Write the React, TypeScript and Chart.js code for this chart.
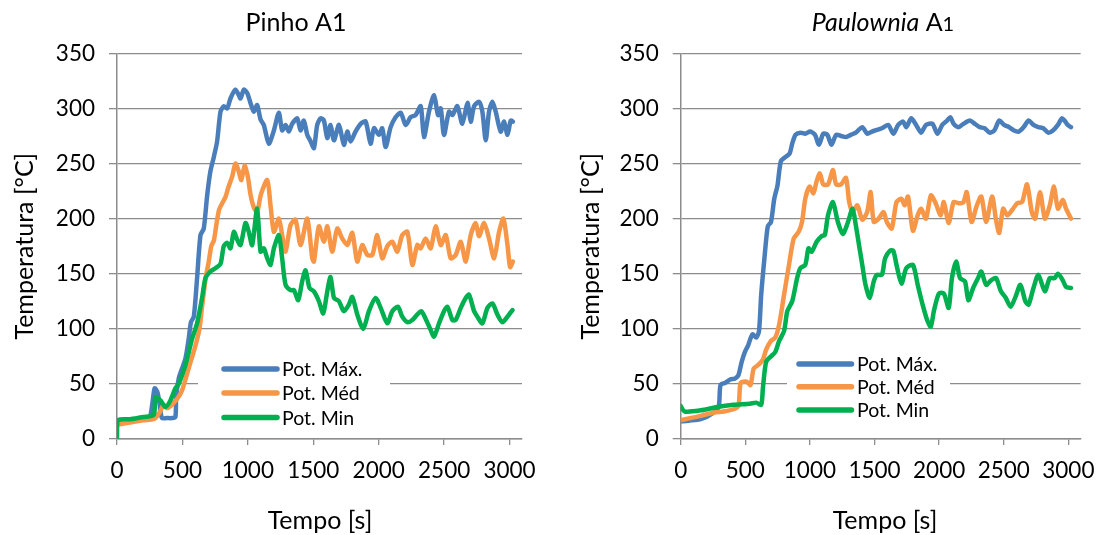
import React, { useEffect, useRef } from "react";
import { Chart, registerables } from "chart.js";

Chart.register(...registerables);

// ---------- axis / legend data ----------
const X_TICKS = [0, 500, 1000, 1500, 2000, 2500, 3000];
const Y_TICKS = [0, 50, 100, 150, 200, 250, 300, 350];
const X_MAX = 3095;
const Y_MAX = 350;
const SERIES_LABELS = ["Pot. Máx.", "Pot. Méd", "Pot. Min"];
const SERIES_COLORS = ["#4A7EBB", "#F79646", "#00B050"];
const X_TITLE = "Tempo [s]";
const Y_TITLE = "Temperatura [°C]";

// ---------- Pinho A1 ----------
const PINHO_MAX_T = [0, 100, 200, 250, 270, 288, 310, 330, 344, 380, 420, 446, 452, 472, 500, 523, 548, 565, 587, 612, 638, 663, 689, 714, 740, 765, 791, 816, 842, 867, 905, 931, 944, 969, 995, 1020, 1046, 1071, 1097, 1122, 1160, 1199, 1237, 1262, 1288, 1313, 1339, 1377, 1403, 1428, 1454, 1480, 1505, 1530, 1556, 1581, 1607, 1632, 1658, 1696, 1734, 1760, 1785, 1823, 1862, 1900, 1938, 1964, 2002, 2027, 2053, 2091, 2129, 2168, 2206, 2244, 2282, 2321, 2346, 2384, 2423, 2453, 2474, 2499, 2537, 2563, 2601, 2639, 2678, 2703, 2729, 2767, 2792, 2818, 2843, 2869, 2894, 2932, 2958, 2984, 3009, 3025];
const PINHO_MAX_V = [16, 17, 19, 20, 32, 46, 42, 28, 19, 19, 19, 20, 37, 55, 65, 73, 91, 106, 111, 146, 185, 191, 221, 243, 256, 270, 297, 302, 300, 309, 317, 312, 309, 317, 314, 305, 297, 303, 290, 285, 268, 280, 296, 280, 285, 279, 286, 291, 280, 289, 276, 270, 264, 285, 291, 289, 273, 285, 271, 285, 267, 279, 270, 279, 286, 288, 268, 282, 276, 282, 265, 283, 292, 296, 285, 292, 294, 302, 274, 297, 312, 294, 300, 276, 297, 294, 302, 286, 305, 288, 302, 306, 297, 271, 297, 306, 297, 279, 288, 276, 289, 288];

const PINHO_MED_T = [0, 100, 200, 280, 300, 330, 357, 380, 410, 450, 480, 500, 550, 600, 630, 650, 680, 700, 720, 740, 760, 780, 800, 830, 850, 880, 905, 930, 950, 975, 1000, 1020, 1046, 1071, 1100, 1148, 1175, 1199, 1237, 1262, 1288, 1326, 1364, 1403, 1454, 1492, 1505, 1543, 1581, 1607, 1645, 1683, 1721, 1760, 1798, 1836, 1874, 1913, 1951, 1989, 2027, 2066, 2104, 2142, 2180, 2219, 2257, 2295, 2321, 2359, 2397, 2435, 2474, 2512, 2550, 2588, 2627, 2665, 2703, 2741, 2767, 2805, 2843, 2882, 2920, 2953, 2984, 3004, 3025];
const PINHO_MED_V = [13, 15, 17, 18, 20, 25, 31, 28, 30, 35, 40, 45, 65, 85, 100, 120, 148, 160, 175, 180, 195, 208, 213, 220, 228, 238, 250, 243, 235, 248, 238, 222, 210, 206, 222, 235, 210, 188, 200, 185, 170, 194, 199, 176, 200, 164, 161, 193, 179, 193, 170, 191, 182, 176, 187, 161, 176, 167, 167, 185, 164, 175, 179, 170, 185, 188, 158, 176, 173, 182, 173, 193, 176, 185, 164, 167, 179, 161, 185, 196, 184, 196, 182, 164, 188, 200, 176, 156, 161];

const PINHO_MIN_T = [0, 3, 100, 200, 281, 293, 332, 370, 408, 446, 472, 523, 574, 612, 650, 676, 714, 752, 791, 816, 842, 867, 893, 918, 944, 982, 1007, 1033, 1071, 1097, 1122, 1148, 1173, 1199, 1237, 1262, 1288, 1326, 1352, 1385, 1415, 1441, 1471, 1505, 1543, 1576, 1607, 1632, 1658, 1696, 1734, 1772, 1798, 1836, 1882, 1925, 1976, 2015, 2066, 2104, 2147, 2180, 2219, 2257, 2295, 2326, 2359, 2397, 2423, 2461, 2499, 2525, 2563, 2588, 2627, 2665, 2690, 2729, 2754, 2792, 2831, 2869, 2907, 2945, 2984, 3022];
const PINHO_MIN_V = [0, 17, 18, 20, 22, 38, 35, 29, 35, 46, 50, 67, 91, 105, 128, 146, 152, 155, 159, 175, 178, 173, 188, 181, 176, 196, 188, 176, 209, 170, 173, 164, 158, 173, 185, 164, 140, 135, 135, 126, 143, 153, 137, 134, 125, 114, 134, 147, 128, 125, 116, 122, 129, 113, 100, 116, 128, 119, 105, 116, 120, 111, 106, 108, 113, 116, 109, 99, 93, 105, 116, 120, 108, 108, 119, 128, 131, 116, 111, 105, 119, 123, 113, 106, 111, 117];

// ---------- Paulownia A1 ----------
const PAUL_MAX_T = [0, 156, 257, 295, 308, 346, 383, 421, 447, 472, 497, 522, 555, 585, 606, 623, 648, 674, 699, 724, 749, 775, 812, 843, 863, 888, 926, 964, 1002, 1039, 1070, 1103, 1135, 1166, 1203, 1241, 1279, 1317, 1355, 1405, 1443, 1480, 1506, 1557, 1607, 1645, 1683, 1721, 1746, 1784, 1822, 1860, 1898, 1948, 1986, 2024, 2062, 2087, 2112, 2150, 2188, 2238, 2276, 2314, 2352, 2390, 2427, 2465, 2503, 2541, 2579, 2617, 2654, 2692, 2730, 2768, 2806, 2844, 2881, 2919, 2950, 2970, 2995, 3020];
const PAUL_MAX_V = [16, 18, 24, 30, 49, 51, 54, 55, 58, 70, 79, 85, 95, 92, 98, 131, 164, 193, 197, 218, 230, 252, 256, 259, 268, 276, 278, 277, 279, 276, 267, 277, 276, 267, 276, 275, 274, 276, 278, 283, 277, 279, 280, 282, 285, 277, 285, 288, 283, 291, 285, 278, 285, 286, 277, 285, 289, 292, 286, 283, 286, 289, 286, 283, 282, 278, 280, 289, 285, 283, 280, 279, 283, 289, 285, 283, 282, 278, 280, 285, 291, 289, 285, 283];

const PAUL_MED_T = [0, 156, 257, 333, 409, 447, 464, 510, 540, 565, 598, 636, 661, 699, 732, 762, 800, 838, 875, 913, 939, 964, 997, 1027, 1052, 1077, 1103, 1140, 1178, 1203, 1241, 1279, 1304, 1330, 1367, 1405, 1443, 1470, 1494, 1532, 1570, 1595, 1633, 1670, 1708, 1733, 1759, 1797, 1834, 1860, 1898, 1936, 1973, 2011, 2036, 2074, 2112, 2150, 2188, 2213, 2251, 2289, 2326, 2364, 2410, 2440, 2465, 2495, 2528, 2566, 2604, 2642, 2680, 2717, 2743, 2781, 2818, 2856, 2889, 2919, 2957, 2982, 3020];
const PAUL_MED_V = [17, 21, 24, 25, 27, 30, 51, 52, 49, 64, 67, 72, 81, 89, 92, 104, 131, 158, 182, 188, 197, 218, 229, 223, 234, 241, 231, 231, 244, 231, 231, 237, 215, 206, 212, 199, 206, 224, 197, 200, 206, 197, 191, 215, 218, 212, 220, 189, 203, 209, 200, 221, 214, 203, 215, 196, 215, 214, 215, 224, 197, 211, 220, 197, 220, 199, 187, 209, 203, 208, 214, 215, 231, 206, 200, 224, 200, 212, 229, 209, 217, 209, 200];

const PAUL_MIN_T = [0, 30, 156, 282, 409, 535, 585, 623, 636, 661, 699, 732, 762, 800, 825, 863, 901, 926, 964, 989, 1014, 1052, 1090, 1115, 1140, 1178, 1216, 1254, 1292, 1330, 1355, 1380, 1405, 1430, 1463, 1494, 1519, 1557, 1582, 1620, 1645, 1670, 1708, 1746, 1797, 1834, 1872, 1910, 1935, 1961, 1998, 2036, 2074, 2099, 2132, 2162, 2200, 2226, 2263, 2301, 2326, 2364, 2402, 2440, 2478, 2516, 2553, 2591, 2629, 2667, 2692, 2730, 2768, 2818, 2856, 2894, 2919, 2957, 2982, 3020];
const PAUL_MIN_V = [30, 25, 26, 29, 31, 32, 33, 31, 46, 70, 75, 79, 89, 98, 116, 125, 146, 155, 158, 173, 170, 179, 184, 185, 203, 215, 197, 186, 196, 209, 194, 176, 158, 140, 128, 143, 149, 149, 164, 171, 171, 158, 141, 155, 158, 140, 122, 107, 102, 117, 132, 132, 119, 146, 161, 146, 143, 126, 137, 146, 152, 140, 144, 146, 134, 128, 120, 129, 140, 125, 122, 137, 149, 134, 146, 146, 150, 144, 138, 137];

// ---------- styling ----------
const FONT = "Lato, 'Open Sans', 'DejaVu Sans', sans-serif";
const GRID = "#8c8c8c";
const W_H = 535;

type Seg = { text: string; italic?: boolean; scale?: number };

type Cfg = {
  left: number;
  width: number;
  area: { left: number; right: number; top: number; bottom: number };
  title: Seg[];
  titleX: number;
  titleY: number;
  yTitleX: number;
  xTitleX: number;
  xTitleY: number;
  legend: { x1: number; x2: number; y1: number; y2: number; lx1: number; lx2: number; tx: number; rows: number[] };
  series: { t: number[]; v: number[] }[];
};

const CHARTS: Cfg[] = [
  {
    left: 0,
    width: 553,
    area: { left: 117, right: 522, top: 53.3, bottom: 439 },
    title: [{ text: "Pinho A1" }],
    titleX: 296,
    titleY: 22,
    yTitleX: 25,
    xTitleX: 320,
    xTitleY: 521,
    legend: { x1: 198, x2: 390, y1: 357, y2: 430, lx1: 224, lx2: 277, tx: 282, rows: [369, 393, 417.5] },
    series: [
      { t: PINHO_MAX_T, v: PINHO_MAX_V },
      { t: PINHO_MED_T, v: PINHO_MED_V },
      { t: PINHO_MIN_T, v: PINHO_MIN_V },
    ],
  },
  {
    left: 553,
    width: 554,
    area: { left: 127.7, right: 536.7, top: 53.3, bottom: 439 },
    title: [{ text: "Paulownia", italic: true }, { text: " A" }, { text: "1", scale: 0.8 }],
    titleX: 330,
    titleY: 22,
    yTitleX: 38,
    xTitleX: 332,
    xTitleY: 521,
    legend: { x1: 234, x2: 397, y1: 352, y2: 422, lx1: 246, lx2: 298.5, tx: 304, rows: [364, 386.7, 410] },
    series: [
      { t: PAUL_MAX_T, v: PAUL_MAX_V },
      { t: PAUL_MED_T, v: PAUL_MED_V },
      { t: PAUL_MIN_T, v: PAUL_MIN_V },
    ],
  },
];

function TempChart({ cfg }: { cfg: Cfg }) {
  const ref = useRef<HTMLCanvasElement | null>(null);

  useEffect(() => {
    const canvas = ref.current;
    if (!canvas) return;
    const a = cfg.area;

    const datasets = cfg.series.map((s, i) => ({
      label: SERIES_LABELS[i],
      data: s.t.map((t, k) => ({ x: t, y: s.v[k] })),
      borderColor: SERIES_COLORS[i],
      backgroundColor: SERIES_COLORS[i],
      borderWidth: 4.5,
      pointRadius: 0,
      pointHoverRadius: 0,
      tension: 0.25,
      fill: false,
      order: 2 - i,
      borderJoinStyle: "round" as const,
      borderCapStyle: "round" as const,
    }));

    const decor = {
      id: "decor",
      afterDraw(chart: any) {
        const ctx = chart.ctx as CanvasRenderingContext2D;
        ctx.save();
        // title
        const titleSize = 25;
        const fontOf = (seg: Seg) =>
          `${seg.italic ? "italic " : ""}${Math.round(titleSize * (seg.scale || 1))}px ${FONT}`;
        let total = 0;
        for (const seg of cfg.title) {
          ctx.font = fontOf(seg);
          total += ctx.measureText(seg.text).width;
        }
        let x = cfg.titleX - total / 2;
        ctx.fillStyle = "#000";
        ctx.textBaseline = "alphabetic";
        ctx.textAlign = "left";
        for (const seg of cfg.title) {
          ctx.font = fontOf(seg);
          ctx.fillText(seg.text, x, cfg.titleY + 9);
          x += ctx.measureText(seg.text).width;
        }
        // axis titles
        ctx.font = `25px ${FONT}`;
        ctx.textAlign = "center";
        ctx.textBaseline = "middle";
        ctx.fillText(X_TITLE, cfg.xTitleX, cfg.xTitleY);
        ctx.save();
        ctx.translate(cfg.yTitleX, (a.top + a.bottom) / 2);
        ctx.rotate(-Math.PI / 2);
        ctx.fillText(Y_TITLE, 0, 0);
        ctx.restore();
        // legend
        const L = cfg.legend;
        ctx.fillStyle = "#fff";
        ctx.fillRect(L.x1, L.y1, L.x2 - L.x1, L.y2 - L.y1);
        ctx.font = `19.5px ${FONT}`;
        ctx.textAlign = "left";
        ctx.textBaseline = "middle";
        chart.data.datasets.forEach((ds: any, i: number) => {
          const y = L.rows[i];
          ctx.strokeStyle = ds.borderColor;
          ctx.lineWidth = 5.5;
          ctx.lineCap = "round";
          ctx.beginPath();
          ctx.moveTo(L.lx1, y);
          ctx.lineTo(L.lx2, y);
          ctx.stroke();
          ctx.fillStyle = "#000";
          ctx.fillText(ds.label, L.tx, y + 1);
        });
        ctx.restore();
      },
    };

    const chart = new Chart(canvas, {
      type: "line",
      data: { datasets: datasets as any },
      options: {
        responsive: false,
        animation: false,
        devicePixelRatio: 1,
        layout: {
          padding: { left: 0, top: a.top, right: cfg.width - a.right, bottom: 0 },
        },
        plugins: {
          legend: { display: false },
          title: { display: false },
          tooltip: { enabled: false },
        },
        scales: {
          x: {
            type: "linear",
            min: 0,
            max: X_MAX,
            afterBuildTicks: (s: any) => {
              s.ticks = X_TICKS.map((v) => ({ value: v }));
            },
            afterFit: (s: any) => {
              s.height = W_H - a.bottom;
            },
            grid: {
              display: true,
              drawOnChartArea: false,
              drawTicks: true,
              tickLength: 6,
              color: GRID,
              lineWidth: 1.3,
            },
            border: { display: true, color: GRID, width: 1.5 },
            ticks: {
              color: "#000",
              font: { family: FONT, size: 22.5 },
              padding: 12,
              maxRotation: 0,
              autoSkip: false,
              callback: (v: any) => String(v),
            },
          },
          y: {
            type: "linear",
            min: 0,
            max: Y_MAX,
            afterBuildTicks: (s: any) => {
              s.ticks = Y_TICKS.map((v) => ({ value: v }));
            },
            afterFit: (s: any) => {
              s.width = a.left;
            },
            grid: {
              display: true,
              drawOnChartArea: true,
              drawTicks: true,
              tickLength: 8,
              color: GRID,
              lineWidth: 1.3,
            },
            border: { display: true, color: GRID, width: 1.5 },
            ticks: {
              color: "#000",
              font: { family: FONT, size: 22.5 },
              padding: 14,
              autoSkip: false,
              callback: (v: any) => String(v),
            },
          },
        },
      },
      plugins: [decor],
    });

    return () => chart.destroy();
  }, [cfg]);

  return (
    <canvas
      ref={ref}
      width={cfg.width}
      height={W_H}
      style={{ position: "absolute", left: cfg.left, top: 0, width: cfg.width, height: W_H }}
    />
  );
}

export default function App() {
  return (
    <div
      style={{
        position: "absolute",
        left: 0,
        top: 0,
        width: 1107,
        height: W_H,
        background: "#fff",
        overflow: "hidden",
      }}
    >
      {CHARTS.map((c, i) => (
        <TempChart key={i} cfg={c} />
      ))}
    </div>
  );
}
